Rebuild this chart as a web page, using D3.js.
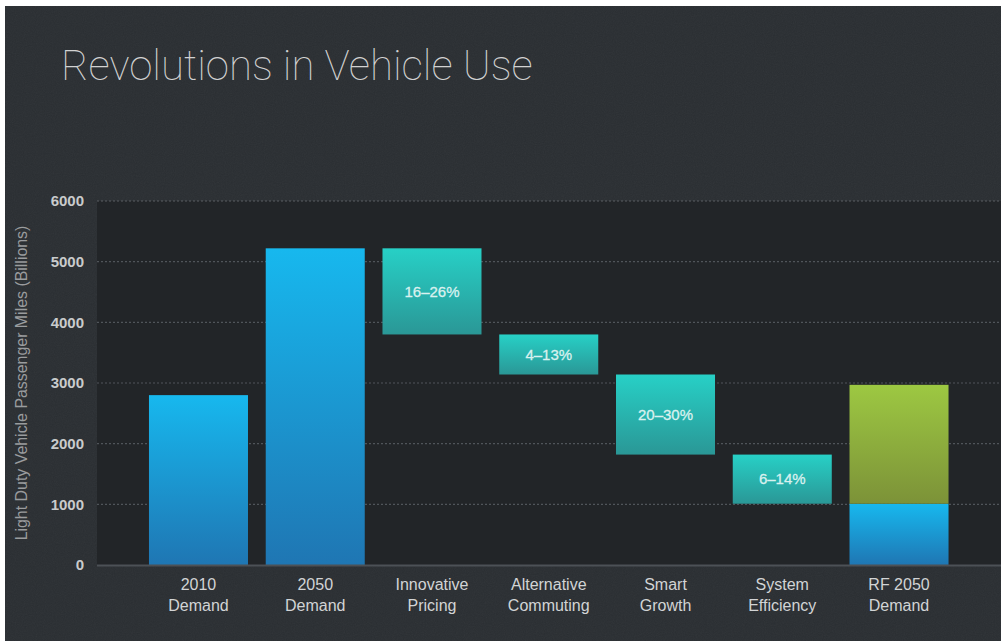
<!DOCTYPE html>
<html>
<head>
<meta charset="utf-8">
<script src="https://cdn.jsdelivr.net/npm/d3@7"></script>
<style>
  html, body { margin: 0; padding: 0; background: #ffffff; }
  svg { display: block; }
</style>
</head>
<body>
<script>
// ---- data ----
const categories = ["2010 Demand", "2050 Demand", "Innovative Pricing", "Alternative Commuting", "Smart Growth", "System Efficiency", "RF 2050 Demand"];
const labelLine1 = ["2010", "2050", "Innovative", "Alternative", "Smart", "System", "RF 2050"];
const labelLine2 = ["Demand", "Demand", "Pricing", "Commuting", "Growth", "Efficiency", "Demand"];
const barKind = ["demand", "demand", "reduction", "reduction", "reduction", "reduction", "demand"];
const lowValues = [0, 0, 3800, 3140, 1820, 1010, 0];
const highValues = [2800, 5220, 5220, 3800, 3140, 1820, 1010];
const rangeLabels = ["", "", "16–26%", "4–13%", "20–30%", "6–14%", ""];
const greenLow = [null, null, null, null, null, null, 1010];
const greenHigh = [null, null, null, null, null, null, 2970];
const yTicks = [0, 1000, 2000, 3000, 4000, 5000, 6000];
const titleText = "Revolutions in Vehicle Use";
const yTitle = "Light Duty Vehicle Passenger Miles (Billions)";

const W = 1001, H = 641;
const plot = { left: 97, right: 1001, top: 201, bottom: 565 };

const svg = d3.select("body").append("svg").attr("width", W).attr("height", H);
const defs = svg.append("defs");

function vgrad(id, c1, c2) {
  const g = defs.append("linearGradient").attr("id", id)
    .attr("x1", 0).attr("y1", 0).attr("x2", 0).attr("y2", 1);
  g.append("stop").attr("offset", "0%").attr("stop-color", c1);
  g.append("stop").attr("offset", "100%").attr("stop-color", c2);
}
vgrad("gBlue", "#17b8ee", "#1f76b3");
vgrad("gTeal", "#27d0c6", "#2a9796");
vgrad("gGreen", "#9dc842", "#7c9238");

// noise texture
const f = defs.append("filter").attr("id", "noise").attr("x", 0).attr("y", 0).attr("width", "100%").attr("height", "100%");
f.append("feTurbulence").attr("type", "fractalNoise").attr("baseFrequency", 0.9).attr("numOctaves", 2).attr("seed", 3).attr("result", "t");
f.append("feColorMatrix").attr("type", "saturate").attr("values", 0);

// background
svg.append("rect").attr("width", W).attr("height", H).attr("fill", "#ffffff");
svg.append("rect").attr("x", 5).attr("y", 6).attr("width", W - 5).attr("height", H - 6).attr("fill", "#2a2e32");
svg.append("rect").attr("x", 5).attr("y", 6).attr("width", W - 5).attr("height", H - 6)
  .attr("filter", "url(#noise)").attr("opacity", 0.05);

// plot area
svg.append("rect").attr("x", plot.left).attr("y", plot.top)
  .attr("width", plot.right - plot.left).attr("height", plot.bottom - plot.top)
  .attr("fill", "#222528");

// title
const title = svg.append("text").attr("x", 61).attr("y", 80)
  .attr("font-family", "Roboto, 'Open Sans', sans-serif").attr("font-weight", 100)
  .attr("font-size", 44).attr("fill", "#d2d2d2").text(titleText);
const tl = title.node().getComputedTextLength();
title.attr("font-size", 44 * 472 / tl);

// scales
const x = d3.scaleBand().domain(categories).range([140.1, 957.4]).paddingInner(0.152).paddingOuter(0.076);
const y = d3.scaleLinear().domain([0, 6000]).range([plot.bottom, plot.top]);

// grid
const grid = svg.append("g");
grid.selectAll("line").data(yTicks.filter(d => d > 0)).join("line")
  .attr("x1", plot.left).attr("x2", plot.right)
  .attr("y1", d => y(d)).attr("y2", d => y(d))
  .attr("stroke", d => d === 6000 ? "#5a5f63" : "#50555a")
  .attr("stroke-width", 1.2)
  .attr("stroke-dasharray", "2,2");

// y axis
const yAxis = d3.axisLeft(y).tickValues(yTicks).tickSize(0).tickPadding(0).tickFormat(d3.format("d"));
const ya = svg.append("g").attr("transform", `translate(84,0)`).call(yAxis);
ya.select(".domain").remove();
ya.selectAll("text").attr("font-family", "'Liberation Sans', Arial, sans-serif")
  .attr("font-size", 15).attr("font-weight", "bold").attr("fill", "#c9cbcc");

// y title
const yt = svg.append("text").attr("transform", `translate(27,383) rotate(-90)`)
  .attr("text-anchor", "middle").attr("font-family", "'Liberation Sans', Arial, sans-serif")
  .attr("font-size", 15).attr("fill", "#9a9c9e").text(yTitle);
const ytl = yt.node().getComputedTextLength();
yt.attr("font-size", 15 * 315 / ytl);

// bars
const idx = d3.range(categories.length);
const bars = svg.append("g");
bars.selectAll("rect.main").data(idx).join("rect").attr("class", "main")
  .attr("x", i => x(categories[i])).attr("width", x.bandwidth())
  .attr("y", i => y(highValues[i])).attr("height", i => y(lowValues[i]) - y(highValues[i]))
  .attr("fill", i => barKind[i] === "reduction" ? "url(#gTeal)" : "url(#gBlue)");

bars.selectAll("rect.green").data(idx.filter(i => greenHigh[i] != null)).join("rect").attr("class", "green")
  .attr("x", i => x(categories[i])).attr("width", x.bandwidth())
  .attr("y", i => y(greenHigh[i])).attr("height", i => y(greenLow[i]) - y(greenHigh[i]))
  .attr("fill", "url(#gGreen)");

bars.selectAll("text.pct").data(idx.filter(i => rangeLabels[i])).join("text").attr("class", "pct")
  .attr("x", i => x(categories[i]) + x.bandwidth() / 2)
  .attr("y", i => (y(highValues[i]) + y(lowValues[i])) / 2)
  .attr("dy", "0.35em").attr("text-anchor", "middle")
  .attr("font-family", "'Liberation Sans', Arial, sans-serif").attr("font-size", 15)
  .attr("fill", "#d9f1ef").attr("stroke", "#d9f1ef").attr("stroke-width", 0.3).text(i => rangeLabels[i]);

// baseline
svg.append("line").attr("x1", plot.left).attr("x2", plot.right)
  .attr("y1", plot.bottom + 0.5).attr("y2", plot.bottom + 0.5)
  .attr("stroke", "#4c5156").attr("stroke-width", 2);

// x labels
const xl = svg.append("g");
xl.selectAll("text").data(idx).join("text")
  .attr("x", i => x(categories[i]) + x.bandwidth() / 2)
  .attr("y", 590)
  .attr("text-anchor", "middle").attr("font-family", "'Liberation Sans', Arial, sans-serif")
  .attr("font-size", 16).attr("fill", "#d2d4d5")
  .each(function(i) {
    const t = d3.select(this);
    t.append("tspan").attr("x", x(categories[i]) + x.bandwidth() / 2).text(labelLine1[i]);
    t.append("tspan").attr("x", x(categories[i]) + x.bandwidth() / 2).attr("dy", 21).text(labelLine2[i]);
  });
</script>
</body>
</html>
